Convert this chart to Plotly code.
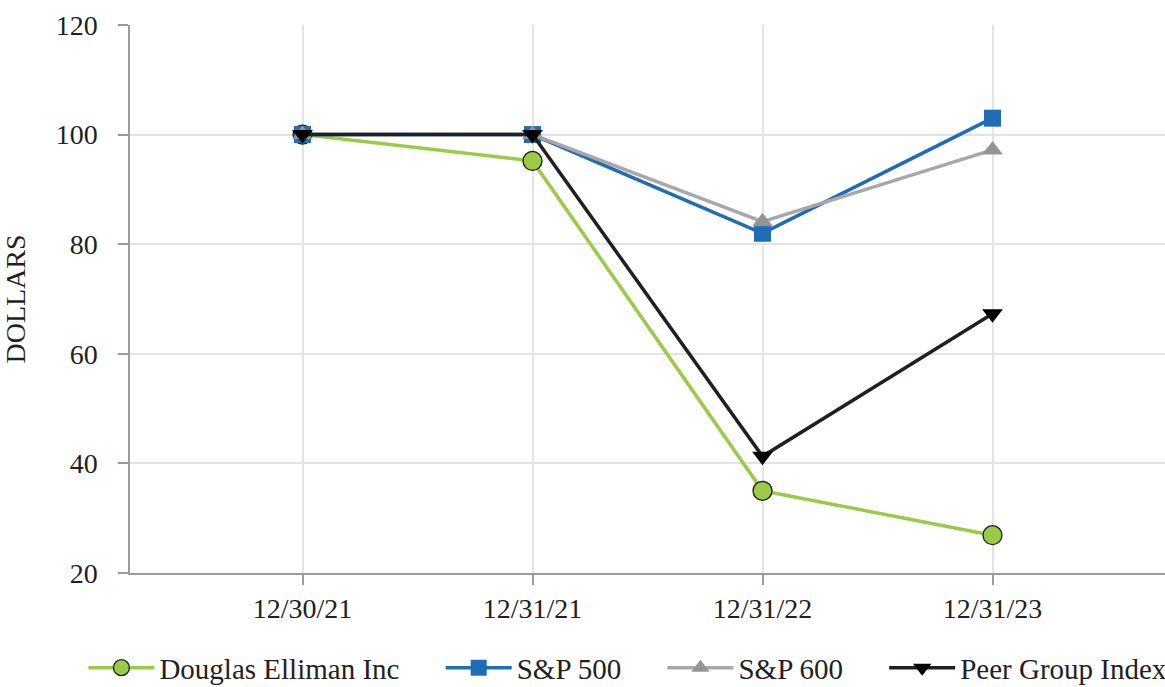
import plotly.graph_objects as go

categories = ["12/30/21", "12/31/21", "12/31/22", "12/31/23"]
douglas = [100, 95.2, 35.0, 26.9]
sp500 = [100, 100, 82.0, 103.0]
sp600 = [100, 100, 84.1, 97.2]
peer = [100, 100, 41.3, 67.3]
series_names = ["Douglas Elliman Inc", "S&P 500", "S&P 600", "Peer Group Index"]

FONT = "Liberation Serif, Times New Roman, serif"
FS = 28
PAD = "\u00a0" * 5

fig = go.Figure()
fig.add_trace(go.Scatter(x=categories, y=douglas, name=series_names[0] + PAD, mode="lines+markers",
                         line=dict(color="#9bcb46", width=3.5),
                         marker=dict(symbol="circle", size=19, color="#9bcb46", line=dict(color="#1a1a1a", width=1.3))))
fig.add_trace(go.Scatter(x=categories, y=sp500, name=series_names[1] + PAD, mode="lines+markers",
                         line=dict(color="#1f6db5", width=3.5),
                         marker=dict(symbol="square", size=17, color="#1f6db5")))
fig.add_trace(go.Scatter(x=categories, y=sp600, name=series_names[2] + PAD, mode="lines+markers",
                         line=dict(color="#a8a8aa", width=3.5),
                         marker=dict(symbol="triangle-up", size=18, color="#959595")))
fig.add_trace(go.Scatter(x=categories, y=peer, name=series_names[3], mode="lines+markers",
                         line=dict(color="#231f20", width=3.5),
                         marker=dict(symbol="triangle-down", size=18, color="#000000")))

fig.update_layout(
    width=1165, height=687,
    margin=dict(l=130, r=0, t=25, b=114, autoexpand=False),
    paper_bgcolor="white", plot_bgcolor="white",
    font=dict(family=FONT, size=FS, color="#231f20"),
    xaxis=dict(type="category", range=[-0.75, 3.75], showgrid=True, gridcolor="#e3e3e3", gridwidth=1.5,
               showline=True, linecolor="#9b9b9e", linewidth=1.5, ticks="outside", ticklen=10,
               tickcolor="#9b9b9e", tickwidth=1.5, tickfont=dict(size=FS), zeroline=False),
    yaxis=dict(range=[20, 120], dtick=20, showgrid=True, gridcolor="#e3e3e3", gridwidth=1.5,
               showline=True, linecolor="#9b9b9e", linewidth=1.5, ticks="outside", ticklen=10,
               tickcolor="#9b9b9e", tickwidth=1.5, tickfont=dict(size=FS), zeroline=False,
               ticklabelstandoff=15,
               title=dict(text="DOLLARS", font=dict(size=FS), standoff=23)),
    legend=dict(orientation="h", x=-0.045, xanchor="left",
                y=-0.173, yanchor="middle",
                font=dict(size=29), itemwidth=66, tracegroupgap=0),
    showlegend=True,
)

fig.write_html("out.html")
